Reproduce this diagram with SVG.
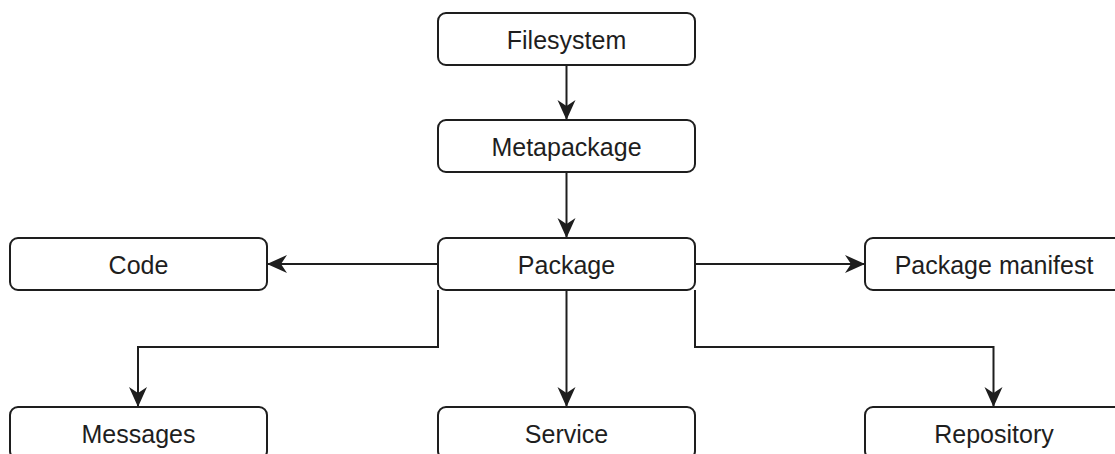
<svg xmlns="http://www.w3.org/2000/svg" width="1115" height="454" viewBox="0 0 1115 454">
<style>
.box{fill:#fff;stroke:#1e1e1e;stroke-width:2}
.lbl{font-family:"Liberation Sans",Arial,sans-serif;font-size:25px;fill:#1e1e1e;text-anchor:middle}
.edge{fill:none;stroke:#1e1e1e;stroke-width:2;marker-end:url(#arr)}
</style>
<defs>
<marker id="arr" markerUnits="userSpaceOnUse" viewBox="0 0 20 20" refX="19" refY="10" markerWidth="20" markerHeight="20" orient="auto">
<path d="M0,1 L20,10 L0,19 L6,10 Z" fill="#1e1e1e"/>
</marker>
</defs>
<rect width="1115" height="454" fill="#fff"/>
<g id="connectors">
<path class="edge" d="M566.5,65 V119"/>
<path class="edge" d="M566.5,172 V237"/>
<path class="edge" d="M438,264 H268"/>
<path class="edge" d="M695,264 H864"/>
<path class="edge" d="M438,290 V347 H138 V406"/>
<path class="edge" d="M566.5,290 V406"/>
<path class="edge" d="M695,290 V347 H993.5 V406"/>
</g>
<g id="filesystem"><rect class="box" x="438" y="13" width="257" height="52" rx="8"/><text class="lbl" x="566.5" y="49">Filesystem</text></g>
<g id="metapackage"><rect class="box" x="438" y="120" width="257" height="52" rx="8"/><text class="lbl" x="566.5" y="156">Metapackage</text></g>
<g id="package"><rect class="box" x="438" y="238" width="257" height="52" rx="8"/><text class="lbl" x="566.5" y="274">Package</text></g>
<g id="code"><rect class="box" x="10" y="238" width="257" height="52" rx="8"/><text class="lbl" x="138.5" y="274">Code</text></g>
<g id="manifest"><rect class="box" x="865" y="238" width="257" height="52" rx="8"/><text class="lbl" x="994" y="274">Package manifest</text></g>
<g id="messages"><rect class="box" x="10" y="407" width="257" height="52" rx="8"/><text class="lbl" x="138.5" y="443">Messages</text></g>
<g id="service"><rect class="box" x="438" y="407" width="257" height="52" rx="8"/><text class="lbl" x="566.5" y="443">Service</text></g>
<g id="repository"><rect class="box" x="865" y="407" width="257" height="52" rx="8"/><text class="lbl" x="994" y="443">Repository</text></g>
</svg>
